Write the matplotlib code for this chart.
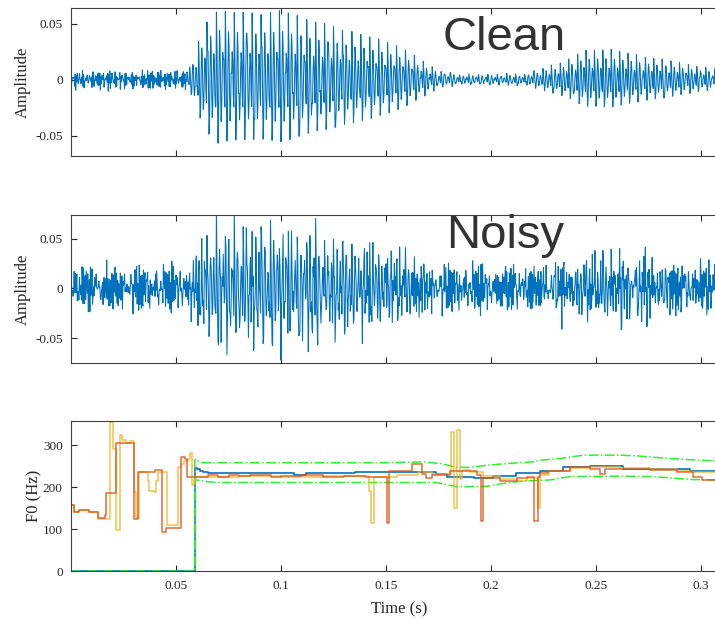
import numpy as np
import matplotlib
matplotlib.use('Agg')
import matplotlib.pyplot as plt

plt.rcParams['font.family'] = 'Liberation Serif'
plt.rcParams['axes.unicode_minus'] = False

# ---- waveform description ----
# amplitude envelope of the voiced part (s, peak amplitude)
env_t = [0.0, 0.054, 0.057, 0.060, 0.064, 0.070, 0.080, 0.090, 0.100, 0.110, 0.120,
         0.130, 0.140, 0.150, 0.160, 0.168, 0.175, 0.185, 0.200, 0.215, 0.225, 0.235,
         0.245, 0.255, 0.265, 0.275, 0.285, 0.295, 0.305, 0.3125]
env_amp = [0.0, 0.0, 0.015, 0.030, 0.050, 0.062, 0.060, 0.058, 0.062, 0.055, 0.050,
           0.044, 0.040, 0.034, 0.026, 0.016, 0.008, 0.005, 0.005, 0.005, 0.010, 0.016,
           0.026, 0.027, 0.024, 0.020, 0.017, 0.013, 0.010, 0.009]
# background level of the clean recording
floor_t = [0.0, 0.054, 0.058, 0.3125]
clean_floor = [0.012, 0.012, 0.001, 0.001]
noisy_floor = 0.032
# one glottal period, normalised
pulse_shape = [1.0, 0.5, -0.3, -0.9, -0.6, 0.2, 0.7, 0.5,
               -0.2, -0.6, -0.4, 0.1, 0.4, 0.3, -0.2, -0.4]
# fluctuation patterns for the background
noise_a = [0.42, -0.65, 0.18, -0.33, 0.71, -0.12, 0.55, -0.48, 0.27, -0.82, 0.36,
           -0.21, 0.63, -0.57, 0.09, -0.39, 0.95, -0.28, 0.47, -0.69, 0.22, -0.15,
           0.58, -0.44, 0.31, -0.74, 0.13, -0.52, 0.66, -0.25, 0.38]
noise_b = [0.3, 0.8, -0.5, 0.1, -0.9, 0.6, -0.2, 0.4, -0.7, 0.9, -0.3, 0.2, -0.6,
           0.7, -0.1, 0.5, -0.8, 0.25, -0.4]

# ---- F0 tracks (Hz) ----
ref_t = [0.0, 0.059, 0.0600, 0.0615, 0.0630, 0.0650, 0.1060, 0.1120, 0.1350, 0.1740,
         0.1790, 0.1920, 0.2010, 0.2120, 0.2233, 0.2345, 0.2471, 0.2630, 0.2948, 0.3125]
ref_f0 = [0, 245, 242, 239, 236, 233, 228, 233, 235, 231,
          225, 221, 227, 233, 239, 247, 251, 244, 239, 239]

upper_t = [0.0, 0.059, 0.059, 0.0605, 0.063, 0.150, 0.168, 0.176, 0.1836, 0.190, 0.198,
           0.2074, 0.220, 0.2233, 0.233, 0.244, 0.2614, 0.270, 0.285, 0.3027, 0.3125]
upper_f0 = [0, 0, 266, 262, 258, 258, 260, 256, 247, 247, 252,
            256, 260, 264, 268, 276, 276, 274, 268, 263, 262]
lower_t = [0.0, 0.059, 0.059, 0.061, 0.065, 0.070, 0.174, 0.1836, 0.198, 0.206, 0.2138,
           0.228, 0.2376, 0.2614, 0.2773, 0.2962, 0.3125]
lower_f0 = [0, 0, 218, 216, 213, 211, 211, 201, 202, 209, 214,
            217, 225, 226, 225, 218, 217]

est1_t = [0.0, 0.0016, 0.0040, 0.0088, 0.0127, 0.0160, 0.0166, 0.0216, 0.0298, 0.0318,
          0.0400, 0.0432, 0.0450, 0.0525, 0.0545, 0.0550, 0.0650, 0.0700, 0.0750, 0.0800,
          0.0850, 0.0950, 0.1000, 0.1100, 0.1200, 0.1300, 0.1400, 0.1503, 0.1513, 0.1623,
          0.1671, 0.1690, 0.1720, 0.1806, 0.1933, 0.1950, 0.1960, 0.2043, 0.2122, 0.2170,
          0.2206, 0.2225, 0.2233, 0.2270, 0.2376, 0.2471, 0.2520, 0.2545, 0.2575, 0.2614,
          0.2757, 0.2884, 0.2962, 0.3003, 0.3125]
est1_f0 = [157, 140, 145, 142, 126, 134, 185, 304, 125, 237,
           241, 93, 103, 272, 268, 225, 228, 224, 228, 226,
           229, 224, 227, 229, 224, 227, 225, 114, 238, 255,
           232, 221, 229, 238, 229, 120, 221, 215, 221, 225,
           120, 225, 234, 239, 247, 243, 231, 242, 242, 244,
           241, 237, 225, 218, 218]

est2_t = [0.0, 0.0016, 0.0040, 0.0088, 0.0127, 0.0186, 0.0202, 0.0215, 0.0232, 0.0245,
          0.0262, 0.0280, 0.0300, 0.0310, 0.0325, 0.0365, 0.0372, 0.0395, 0.0405, 0.0415,
          0.0456, 0.0511, 0.0525, 0.0540, 0.0555, 0.0567, 0.0575, 0.0585, 0.0595, 0.0800,
          0.1000, 0.1200, 0.1420, 0.1428, 0.1442, 0.1550, 0.1650, 0.1720, 0.1810, 0.1822,
          0.1838, 0.1852, 0.1862, 0.1900, 0.1960, 0.2043, 0.2122, 0.2170, 0.2222, 0.2235,
          0.2276, 0.2376, 0.2471, 0.2614, 0.2757, 0.2884, 0.2962, 0.3125]
est2_f0 = [157, 140, 145, 142, 124, 355, 290, 98, 324, 312,
           305, 309, 189, 126, 237, 215, 192, 189, 215, 237,
           109, 248, 255, 262, 268, 280, 205, 216, 225, 226,
           224, 226, 190, 114, 225, 230, 237, 231, 330, 150,
           335, 220, 240, 236, 226, 220, 215, 222, 150, 230,
           238, 245, 247, 246, 243, 239, 236, 236]

# ---- build the two signals ----
fs = 4000
t = np.arange(int(0.3125 * fs)) / fs
n = np.arange(len(t))
f0_track = np.array(ref_f0, dtype=float)[np.searchsorted(ref_t, t, side='right') - 1]
f0_track = np.where(f0_track > 0, f0_track, 230.0)
phase = np.cumsum(f0_track / fs) % 1.0
shape_idx = (phase * len(pulse_shape)).astype(int)
voiced = np.interp(t, env_t, env_amp) * np.array(pulse_shape)[shape_idx]

a = np.array(noise_a)
b = np.array(noise_b)
pat_clean = 0.6 * a[n % len(a)] + 0.4 * b[(3 * n) % len(b)]
pat_noisy = 0.6 * a[(7 * n + 5) % len(a)] + 0.4 * b[(5 * n + 3) % len(b)]

clean = voiced + np.interp(t, floor_t, clean_floor) * pat_clean
noisy = voiced + noisy_floor * pat_noisy

# ---- figure ----
fig = plt.figure(figsize=(7.15, 6.2), dpi=100)
left, width = 71 / 715, 0.3125 * 2100 / 715
ax1 = fig.add_axes([left, 0.7484, width, 0.2387])
ax2 = fig.add_axes([left, 0.4145, width, 0.2382])
ax3 = fig.add_axes([left, 0.0785, width, 0.2424])

wave_color = '#0072BD'
xticks = [0.05, 0.1, 0.15, 0.2, 0.25, 0.3]

ax1.plot(t, clean, color=wave_color, lw=0.75)
ax1.set_ylim(-0.068, 0.064)
ax2.plot(t, noisy, color=wave_color, lw=0.75)
ax2.set_ylim(-0.0751, 0.0734)
for ax in (ax1, ax2):
    ax.set_yticks([-0.05, 0, 0.05])
    ax.set_yticklabels(['-0.05', '0', '0.05'])
    ax.set_ylabel('Amplitude', fontsize=12, labelpad=3)

ax3.plot(ref_t, ref_f0, color='#0072BD', lw=1.2, drawstyle='steps-post')
ax3.plot(upper_t, upper_f0, color='#2BF22B', lw=1.1, ls='-.')
ax3.plot(lower_t, lower_f0, color='#2BF22B', lw=1.1, ls='-.')
ax3.plot(est2_t, est2_f0, color='#EDB120', lw=1.1, alpha=0.8, drawstyle='steps-post')
ax3.plot(est1_t, est1_f0, color='#D95319', lw=1.1, alpha=0.85, drawstyle='steps-post')
ax3.set_ylim(0, 357)
ax3.set_yticks([0, 100, 200, 300])
ax3.set_ylabel('F0 (Hz)', fontsize=12, labelpad=0)
ax3.set_xlabel('Time (s)', fontsize=12, labelpad=7)

for ax in (ax1, ax2, ax3):
    ax.set_xlim(0, 0.3125)
    ax.set_xticks(xticks)
    if ax is ax3:
        ax.set_xticklabels(['0.05', '0.1', '0.15', '0.2', '0.25', '0.3'])
    else:
        ax.set_xticklabels([])
    ax.tick_params(direction='in', top=True, right=True, length=4, width=0.8,
                   colors='#262626', labelsize=9.5, pad=6)
    for sp in ax.spines.values():
        sp.set_color('#404040')
        sp.set_linewidth(0.8)
    ax.yaxis.label.set_color('#262626')
    ax.xaxis.label.set_color('#262626')

fig.text(443 / 715, 1 - 50 / 620, 'Clean', family='Liberation Sans', fontsize=34,
         color='#333333', va='baseline')
fig.text(446 / 715, 1 - 248 / 620, 'Noisy', family='Liberation Sans', fontsize=34,
         color='#333333', va='baseline')

fig.savefig('out.png', dpi=100)
